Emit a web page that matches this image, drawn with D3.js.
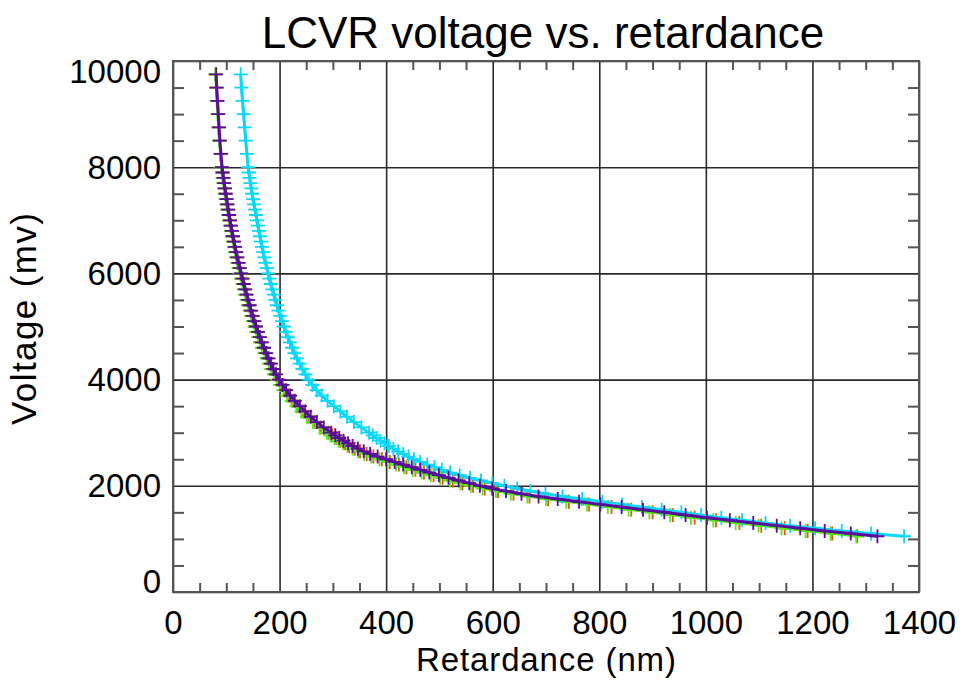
<!DOCTYPE html>
<html>
<head>
<meta charset="utf-8">
<script src="https://cdn.jsdelivr.net/npm/d3@7"></script>
<style>
  body { margin: 0; background: #fff; }
  text { font-family: "Liberation Sans", Arial, Helvetica, sans-serif; fill: #000; }
  .grid line { stroke: #2a2a2a; stroke-width: 1.6; }
  .minor line { stroke: #555; stroke-width: 2; }
  .axis path, .grid path, .minor path { display: none; }
</style>
</head>
<body>
<div id="chart-area"></div>
<script>
const chartSize = { width: 961, height: 682 };
const margin = { left: 173, right: 42, top: 61, bottom: 90 };
const width = chartSize.width - (margin.left + margin.right);
const height = chartSize.height - (margin.top + margin.bottom);

// voltage steps (mV), shared by all four runs
const voltage = [9750, 9500, 9250, 9000, 8750, 8500, 8250, 8000,
  7900, 7800, 7700, 7600, 7500, 7400, 7300, 7200, 7100, 7000,
  6900, 6800, 6700, 6600, 6500, 6400, 6300, 6200, 6100, 6000,
  5900, 5800, 5700, 5600, 5500, 5400, 5300, 5200, 5100, 5000,
  4900, 4800, 4700, 4600, 4500, 4400, 4300, 4200, 4100, 4000,
  3900, 3800, 3700, 3600, 3500, 3400, 3300, 3200, 3100, 3000,
  2950, 2900, 2850, 2800, 2750, 2700, 2650, 2600, 2550, 2500,
  2450, 2400, 2350, 2300, 2250, 2200, 2150, 2100, 2050, 2000,
  1950, 1900, 1850, 1800, 1750, 1700, 1650, 1600, 1550, 1500,
  1450, 1400, 1350, 1300, 1250, 1200, 1150, 1100, 1050];

// retardance (nm) for each run
const retRed = [80, 81.5, 82.5, 84.5, 85.5, 87.5, 89, 91,
  92.5, 93.8, 95.5, 96.6, 98.2, 99.5, 101.4, 102.8, 104.6, 106,
  107.9, 109.5, 111.6, 113.2, 115.4, 117.3, 119.6, 121.7, 124.3, 126.5,
  129.2, 131.4, 134.3, 136.6, 139.5, 142, 145, 147.8, 151, 154,
  157.4, 160.9, 164.8, 168.3, 172.8, 177, 181.2, 186.1, 190.6, 196.2,
  202.3, 209.2, 216.4, 224.8, 233.6, 244, 253.8, 265.5, 277.6, 292,
  298.5, 306.8, 314, 323, 330.5, 341, 351, 363.5, 376, 392,
  407, 424, 438, 455, 471, 489, 506, 525, 543, 563,
  585, 610, 639, 669, 704, 743, 781, 823, 860, 900,
  938, 979, 1019, 1063, 1104, 1148, 1191, 1237, 1284];

const retGreen = [79.5, 80.5, 82, 83.5, 85, 86.5, 88.5, 90.5,
  91.6, 93, 94.5, 95.8, 97.3, 98.8, 100.3, 102, 103.5, 105.2,
  106.8, 108.7, 110.5, 112.4, 114.3, 116.3, 118.4, 120.6, 123, 125.4,
  127.8, 130.3, 132.8, 135.5, 138.2, 140.9, 143.8, 146.7, 149.8, 152.9,
  156.2, 159.7, 163.3, 167.2, 171.2, 175.4, 179.8, 184.4, 189.3, 194.5,
  200.6, 207.2, 214.3, 222.4, 231.4, 241, 251.2, 262.3, 274.8, 288.3,
  295.5, 303, 310.6, 319, 327.5, 337, 347.5, 359, 372, 387.5,
  403, 418.5, 434, 450, 466.5, 484, 501.5, 520, 539.5, 559,
  581, 606, 634, 665, 700, 738, 777, 816, 855, 894,
  933, 972, 1014, 1056, 1099, 1142, 1187, 1234, 1282];

const retPurple = [81, 82, 83.5, 85, 86.5, 88, 90, 92,
  93.4, 94.8, 96.2, 97.6, 99, 100.6, 102.2, 103.8, 105.4, 107,
  108.8, 110.7, 112.6, 114.5, 116.5, 118.6, 120.8, 123.1, 125.5, 128,
  130.5, 133, 135.6, 138.3, 141, 143.8, 146.7, 149.7, 152.8, 156,
  159.5, 163.1, 166.8, 170.8, 175, 179.3, 183.8, 188.5, 193.5, 199,
  205.5, 212.5, 220, 228.5, 238, 248, 258.5, 270, 283, 297,
  304.5, 312, 320, 328.5, 337, 347, 358, 370, 384, 400,
  416, 432, 448, 464, 481, 499, 517, 536, 556, 576,
  599, 625, 654, 686, 722, 762, 802, 842, 882, 922,
  962, 1002, 1045, 1089, 1133, 1177, 1223, 1272, 1322];

const retCyan = [127, 128.5, 130.5, 132.5, 134.5, 136.5, 138.7, 141,
  142.4, 143.8, 145.3, 146.9, 148.5, 150.2, 151.9, 153.7, 155.6, 157.5,
  159.3, 161.2, 163.1, 165, 167, 169.2, 171.4, 173.7, 176.1, 178.5,
  181.1, 183.7, 186.3, 189.1, 192, 195, 198.1, 201.3, 204.6, 208,
  211.7, 215.5, 219.4, 223.6, 228, 232.7, 237.6, 243, 248.5, 254.5,
  261.5, 269.5, 279, 290, 302, 314, 326.5, 339.5, 353.5, 368,
  375, 382, 389.5, 397, 405, 413.5, 422.5, 432, 442, 452,
  464, 477, 490.5, 504.5, 520, 538, 557.5, 578, 599.5, 622,
  646, 671, 699, 731, 768, 806, 843, 880, 917, 954,
  991, 1029, 1068, 1112, 1158, 1205, 1255, 1310, 1372];

const xMajor = [0, 200, 400, 600, 800, 1000, 1200, 1400];
const yMajor = [0, 2000, 4000, 6000, 8000, 10000];
const xMinor = d3.range(50, 1400, 50).filter(v => v % 200 !== 0);
const yMinor = d3.range(500, 10000, 500).filter(v => v % 2000 !== 0);

const runs = [
  { name: 'red', values: retRed, color: '#ff4a12', line: 2 },
  { name: 'green', values: retGreen, color: '#4df20f', line: 2 },
  { name: 'cyan', values: retCyan, color: '#0ad8fa', line: 3 },
  { name: 'purple', values: retPurple, color: '#5c0c9c', line: 3 }
];

const plusPath = s => `M${-s},0H${s}M0,${-s}V${s}`;

const drawChart = () => {
  const svg = d3.select('#chart-area').append('svg')
    .attr('width', chartSize.width)
    .attr('height', chartSize.height);

  const x = d3.scaleLinear().domain([0, 1400]).range([margin.left, margin.left + width]);
  const y = d3.scaleLinear().domain([0, 10000]).range([margin.top + height, margin.top]);

  svg.append('text')
    .attr('x', 543).attr('y', 48)
    .attr('text-anchor', 'middle')
    .attr('font-size', 44)
    .text('LCVR voltage vs. retardance');

  // major grid + labels
  svg.append('g')
    .attr('class', 'x axis grid')
    .attr('transform', `translate(0,${margin.top + height})`)
    .call(d3.axisBottom(x).tickValues(xMajor).tickSize(-height).tickPadding(19).tickFormat(d3.format('d')))
    .selectAll('text').attr('font-size', 33).attr('fill', '#000');

  const yAxisG = svg.append('g')
    .attr('class', 'y axis grid')
    .attr('transform', `translate(${margin.left},0)`)
    .call(d3.axisLeft(y).tickValues(yMajor).tickSize(-width).tickPadding(12).tickFormat(d3.format('d')));
  yAxisG.selectAll('text').attr('font-size', 33).attr('fill', '#000')
    .attr('dy', d => d === 0 ? '0.0em' : d === 10000 ? '0.66em' : '0.33em');

  // minor ticks on all four sides, pointing inward
  svg.append('g').attr('class', 'minor')
    .attr('transform', `translate(0,${margin.top + height})`)
    .call(d3.axisBottom(x).tickValues(xMinor).tickSize(-9).tickFormat(''));
  svg.append('g').attr('class', 'minor')
    .attr('transform', `translate(0,${margin.top})`)
    .call(d3.axisTop(x).tickValues(xMinor).tickSize(-9).tickFormat(''));
  svg.append('g').attr('class', 'minor')
    .attr('transform', `translate(${margin.left},0)`)
    .call(d3.axisLeft(y).tickValues(yMinor).tickSize(-11).tickFormat(''));
  svg.append('g').attr('class', 'minor')
    .attr('transform', `translate(${margin.left + width},0)`)
    .call(d3.axisRight(y).tickValues(yMinor).tickSize(-11).tickFormat(''));

  svg.append('rect')
    .attr('x', margin.left).attr('y', margin.top)
    .attr('width', width).attr('height', height)
    .attr('fill', 'none').attr('stroke', '#555').attr('stroke-width', 2);

  const line = d3.line()
    .x(d => x(d[0]))
    .y(d => y(d[1]));

  const runsG = svg.append('g').attr('class', 'runs');
  runs.forEach(run => {
    const pts = run.values.map((r, i) => [r, voltage[i]]);
    const g = runsG.append('g').attr('class', run.name);
    g.append('path')
      .attr('d', line(pts))
      .attr('fill', 'none')
      .attr('stroke', run.color)
      .attr('stroke-width', run.line);
    g.selectAll('path.mark')
      .data(pts)
      .enter().append('path')
      .attr('class', 'mark')
      .attr('d', plusPath(7))
      .attr('transform', d => `translate(${x(d[0])},${y(d[1])})`)
      .attr('fill', 'none')
      .attr('stroke', run.color)
      .attr('stroke-width', 1.8);
  });

  svg.append('text')
    .attr('x', 546).attr('y', 671)
    .attr('text-anchor', 'middle')
    .attr('font-size', 33)
    .attr('textLength', 260)
    .text('Retardance (nm)');

  svg.append('text')
    .attr('transform', 'translate(36,319) rotate(-90)')
    .attr('text-anchor', 'middle')
    .attr('font-size', 35)
    .attr('textLength', 212)
    .text('Voltage (mv)');
};

window.onload = drawChart;
</script>
</body>
</html>
